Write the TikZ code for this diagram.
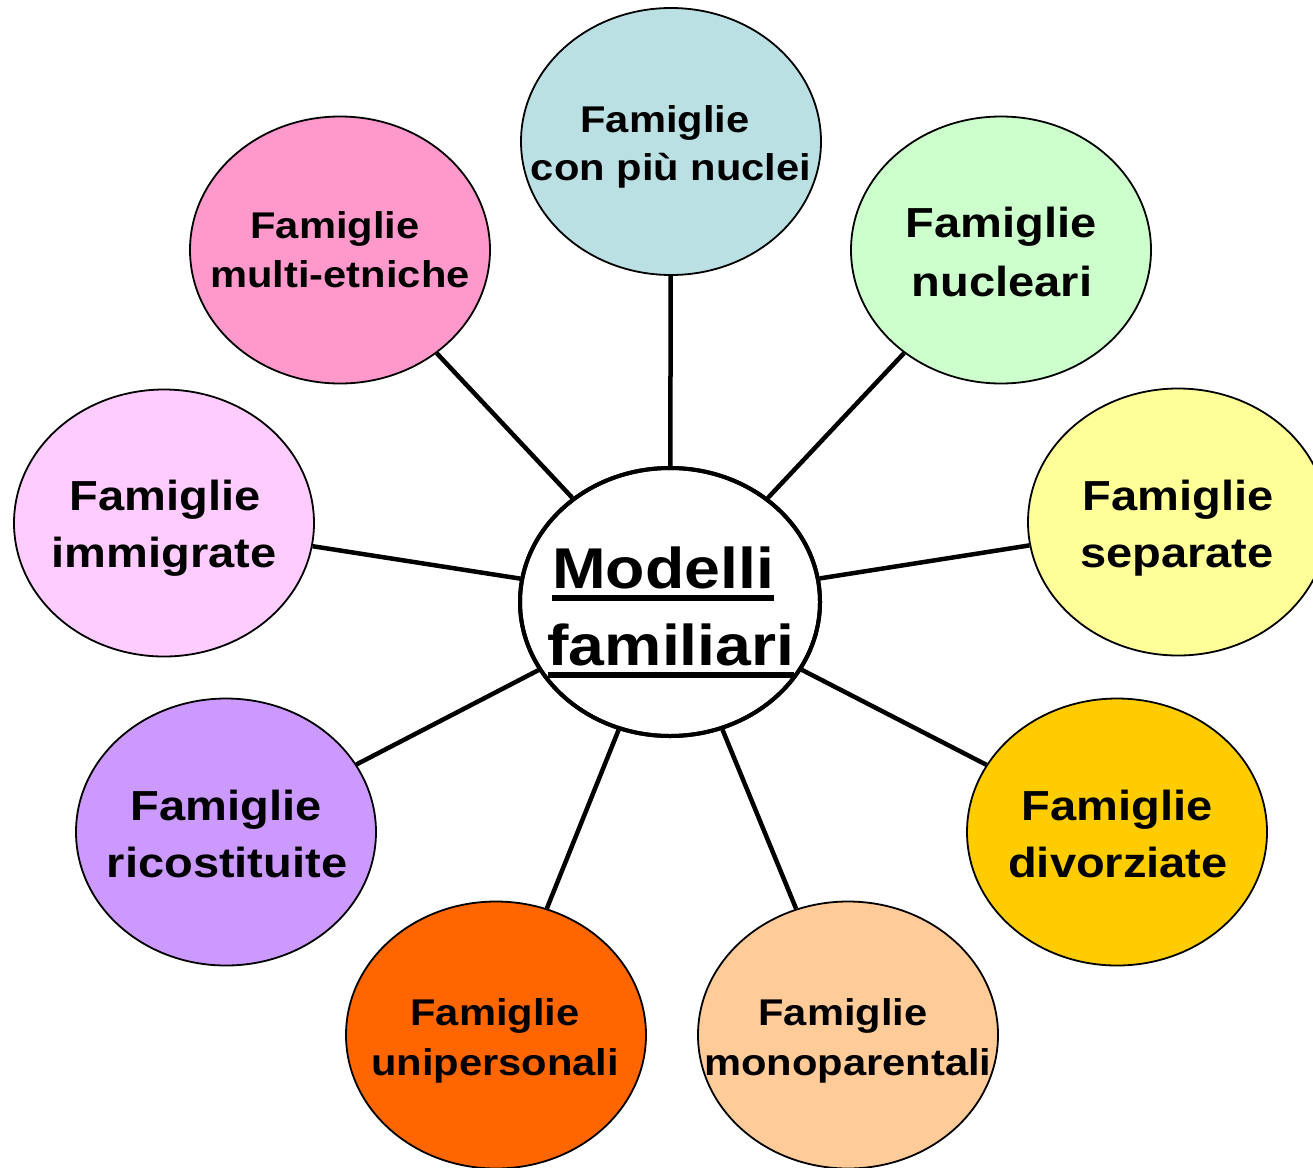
\documentclass[tikz,border=0pt]{standalone}
\usepackage{fontspec}
\setmainfont{Liberation Sans}[FakeStretch=1.12]
\usetikzlibrary{shapes.geometric}
\definecolor{cTop}{RGB}{187,224,227}
\definecolor{cNuc}{RGB}{204,255,204}
\definecolor{cSep}{RGB}{255,255,153}
\definecolor{cDiv}{RGB}{255,204,0}
\definecolor{cMono}{RGB}{255,204,153}
\definecolor{cUni}{RGB}{255,102,0}
\definecolor{cRic}{RGB}{204,153,255}
\definecolor{cImm}{RGB}{255,204,255}
\definecolor{cMul}{RGB}{255,153,204}
\newcommand\thickul[1]{\sbox0{#1}\usebox0\llap{\rule[-13pt]{\wd0}{6.5pt}}}
\begin{document}
\begin{tikzpicture}[x=1pt,y=-1pt,
  ell/.style={ellipse,draw=black,line width=1.8pt,minimum width=300pt,minimum height=267pt,inner sep=0pt},
  hub/.style={ellipse,draw=black,fill=white,line width=4pt,minimum width=300pt,minimum height=268pt,inner sep=0pt},
  big/.style={anchor=base,inner sep=0pt,font=\bfseries\fontsize{42}{50}\selectfont},
  small/.style={anchor=base,inner sep=0pt,font=\bfseries\fontsize{37.2}{45}\selectfont},
  hubtxt/.style={anchor=base,inner sep=0pt,font=\bfseries\fontsize{57.5}{70}\selectfont},
  link/.style={line width=4.5pt}]
\useasboundingbox (0,0) rectangle (1313,1167);
\node[hub] (hub) at (670,602) {};
\node[ell,fill=cTop] (top) at (671,141.5) {};
\node[ell,fill=cNuc] (nuc) at (1001,250) {};
\node[ell,fill=cMul] (mul) at (340,250) {};
\node[ell,fill=cImm] (imm) at (164,523) {};
\node[ell,fill=cSep] (sep) at (1178,522) {};
\node[ell,fill=cRic] (ric) at (226,832) {};
\node[ell,fill=cDiv] (div) at (1117,832) {};
\node[ell,fill=cUni] (uni) at (496,1035) {};
\node[ell,fill=cMono] (mono) at (848,1035) {};
\foreach \n in {top,nuc,mul,imm,sep,ric,div,uni,mono}
  \draw[link] (hub) -- (\n);
\node[hub,fill=none] (hubring) at (670,602) {};
% texts
\node[small] (topa) at (665,132) {Famiglie};
\node[small] (topb) at (671,180) {con più nuclei};
\node[big] (nuca) at (1001,237) {Famiglie};
\node[big] (nucb) at (1002,296) {nucleari};
\node[small] (mula) at (335,238) {Famiglie};
\node[small] (mulb) at (340,287) {multi-etniche};
\node[big] (imma) at (165,510) {Famiglie};
\node[big] (immb) at (164,567) {immigrate};
\node[big] (sepa) at (1178,510) {Famiglie};
\node[big] (sepb) at (1177,567) {separate};
\node[big] (rica) at (226,820) {Famiglie};
\node[big] (ricb) at (227,877) {ricostituite};
\node[big] (diva) at (1117,820) {Famiglie};
\node[big] (divb) at (1118,877) {divorziate};
\node[small] (unia) at (495,1025) {Famiglie};
\node[small] (unib) at (495,1075) {unipersonali};
\node[small] (monoa) at (843,1025) {Famiglie};
\node[small] (monob) at (848,1075) {monoparentali};
\node[hubtxt] (huba) at (663,588) {\thickul{Modelli}};
\node[hubtxt] (hubb) at (671,665) {\thickul{familiari}};
\end{tikzpicture}
\end{document}
